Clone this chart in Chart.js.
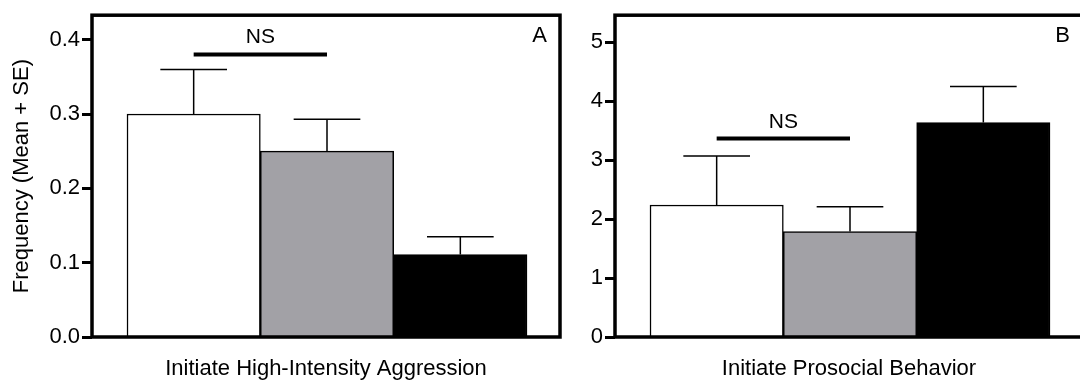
<!DOCTYPE html>
<html>
<head>
<meta charset="utf-8">
<script src="https://cdn.jsdelivr.net/npm/chart.js@4"></script>
<style>
  html, body { margin: 0; padding: 0; background: #fff; }
  body { width: 1080px; height: 384px; overflow: hidden; position: relative; }
  .panel { position: absolute; top: 0; width: 570px; height: 384px; }
  #panelA { left: 0; }
  #panelB { left: 523px; }
</style>
</head>
<body>
<div class="panel" id="panelA"><canvas id="chartA"></canvas></div>
<div class="panel" id="panelB"><canvas id="chartB"></canvas></div>
<script>
// Groups (white, gray, black), same order in both panels
const groupColors = ['#ffffff', '#a2a1a6', '#000000'];
const groupPos = [0, 1, 2];

// Panel A - Initiate High-Intensity Aggression
const meanA = [0.30, 0.25, 0.111];
const seA = [0.06, 0.043, 0.024];
const ticksA = [0.0, 0.1, 0.2, 0.3, 0.4];
const nsA = { from: 0, to: 1, line: 0.38, text: 0.404 };

// Panel B - Initiate Prosocial Behavior
const meanB = [2.24, 1.79, 3.64];
const seB = [0.83, 0.42, 0.61];
const ticksB = [0, 1, 2, 3, 4, 5];
const nsB = { from: 0, to: 1, line: 3.37, text: 3.64 };

Chart.defaults.font.family = "'Liberation Sans', Arial, sans-serif";
Chart.defaults.color = '#000';

// error bars, NS bracket, frame and panel letter
const extras = {
  id: 'extras',
  afterDatasetsDraw(chart, args, opts) {
    const ctx = chart.ctx;
    const { left, right, top, bottom } = chart.chartArea;
    const x = chart.scales.x, y = chart.scales.y;
    const meta = chart.getDatasetMeta(0);
    ctx.save();
    ctx.strokeStyle = '#000';

    // SE (upper only)
    ctx.lineWidth = 1.5;
    meta.data.forEach((bar, i) => {
      const m = opts.mean[i], e = opts.se[i];
      const y0 = y.getPixelForValue(m), y1 = y.getPixelForValue(m + e);
      const half = bar.width / 4;
      ctx.beginPath();
      ctx.moveTo(bar.x, y0);
      ctx.lineTo(bar.x, y1);
      ctx.moveTo(bar.x - half, y1);
      ctx.lineTo(bar.x + half, y1);
      ctx.stroke();
    });

    // NS bracket
    const ns = opts.ns;
    const xa = x.getPixelForValue(ns.from), xb = x.getPixelForValue(ns.to);
    ctx.lineWidth = 4;
    ctx.beginPath();
    ctx.moveTo(xa, y.getPixelForValue(ns.line));
    ctx.lineTo(xb, y.getPixelForValue(ns.line));
    ctx.stroke();
    ctx.fillStyle = '#000';
    ctx.font = "21px 'Liberation Sans', Arial, sans-serif";
    ctx.textAlign = 'center';
    ctx.textBaseline = 'middle';
    ctx.fillText('NS', (xa + xb) / 2, y.getPixelForValue(ns.text));

    // frame
    ctx.lineWidth = 3.5;
    ctx.strokeRect(left, top, right - left, bottom - top);

    // panel letter
    ctx.font = "22px 'Liberation Sans', Arial, sans-serif";
    ctx.textAlign = 'right';
    ctx.fillText(opts.letter, right - 13, top + 21);
    ctx.restore();
  }
};

function makePanel(id, mean, se, tickVals, yMax, digits, xTitle, yTitle, ns, letter) {
  return new Chart(document.getElementById(id), {
    type: 'bar',
    data: {
      datasets: [{
        data: mean.map((v, i) => ({ x: groupPos[i], y: v })),
        backgroundColor: groupColors,
        borderColor: '#000',
        borderWidth: 1.5,
        borderSkipped: 'bottom',
        categoryPercentage: 1,
        barPercentage: 1
      }]
    },
    options: {
      responsive: true,
      maintainAspectRatio: false,
      animation: false,
      events: [],
      layout: { padding: { left: 0, top: 13, right: 10, bottom: 0 } },
      plugins: {
        legend: { display: false },
        tooltip: { enabled: false },
        extras: { mean: mean, se: se, ns: ns, letter: letter }
      },
      scales: {
        x: {
          type: 'linear',
          min: -0.7625,
          max: 2.7475,
          offset: false,
          afterBuildTicks: s => { s.ticks = groupPos.map(v => ({ value: v })); },
          grid: { display: false },
          border: { display: false },
          ticks: { display: false },
          title: {
            display: true,
            text: xTitle,
            font: { size: 22 },
            padding: { top: 0, bottom: 2 }
          },
          afterFit: s => { s.height = 47; }
        },
        y: {
          min: 0,
          max: yMax,
          afterBuildTicks: s => { s.ticks = tickVals.map(v => ({ value: v })); },
          grid: {
            drawOnChartArea: false,
            drawTicks: true,
            tickLength: 10,
            tickWidth: 3,
            tickColor: '#000'
          },
          border: { display: false },
          ticks: {
            padding: 2,
            font: { size: 22 },
            callback: v => v.toFixed(digits)
          },
          title: {
            display: !!yTitle,
            text: yTitle,
            font: { size: 22 },
            padding: { top: 9, bottom: 0 }
          },
          afterFit: s => { s.width = 92; }
        }
      }
    },
    plugins: [extras]
  });
}

makePanel('chartA', meanA, seA, ticksA, 0.433, 1,
  'Initiate High-Intensity Aggression', 'Frequency (Mean + SE)', nsA, 'A');
makePanel('chartB', meanB, seB, ticksB, 5.46, 0,
  'Initiate Prosocial Behavior', '', nsB, 'B');
</script>
</body>
</html>
